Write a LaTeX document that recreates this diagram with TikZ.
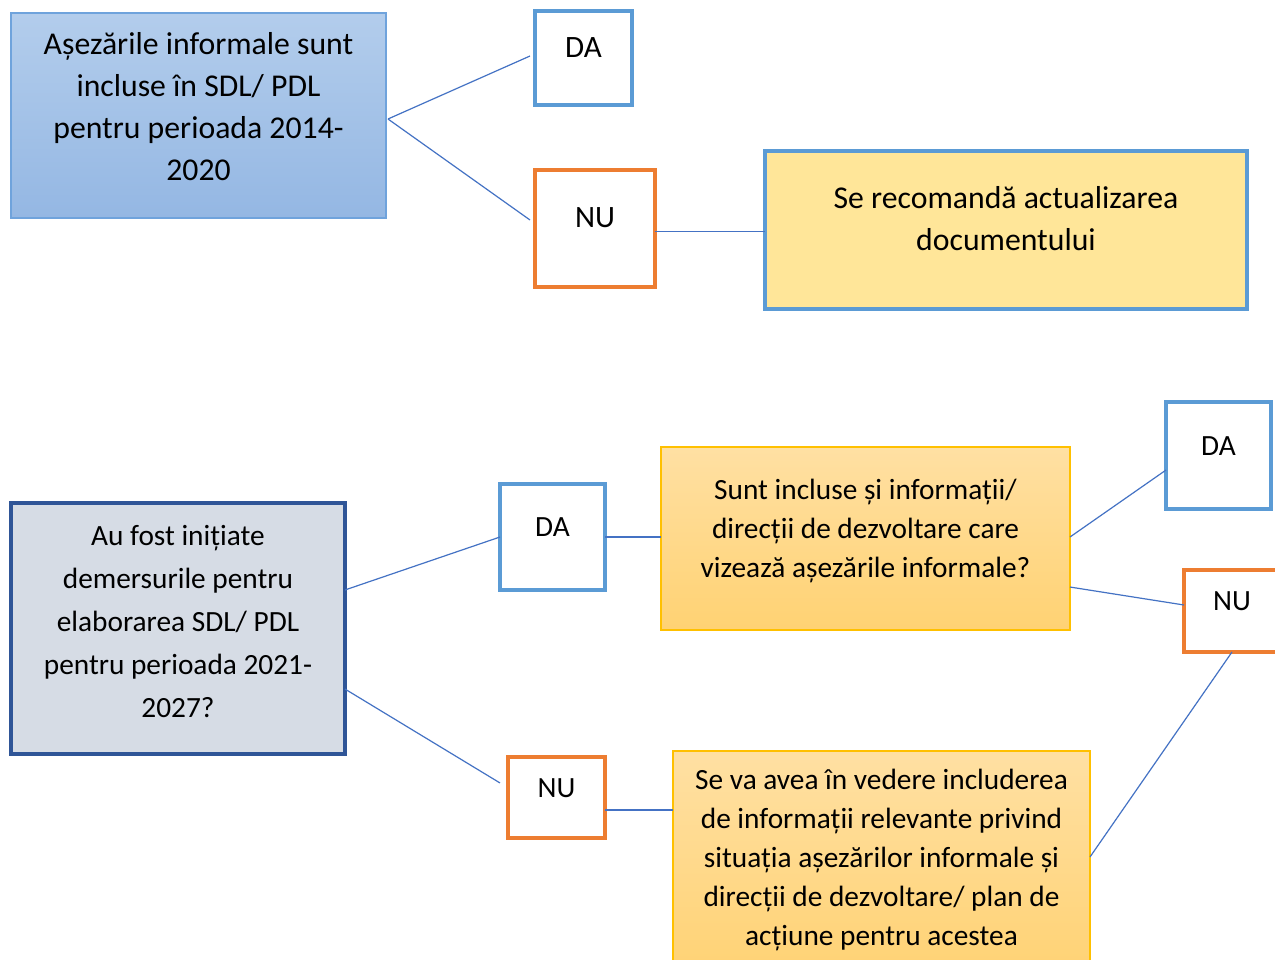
\documentclass[tikz,border=0pt]{standalone}
\usepackage{fontspec}
\setmainfont{Carlito}
\usetikzlibrary{calc}
\definecolor{tlTop}{HTML}{B3CDEC}
\definecolor{tlBot}{HTML}{94B7E3}
\definecolor{tlLine}{HTML}{6FA3DC}
\definecolor{daLine}{HTML}{5B9BD5}
\definecolor{nuLine}{HTML}{ED7D31}
\definecolor{recFill}{HTML}{FFE699}
\definecolor{blFill}{HTML}{D6DCE5}
\definecolor{blLine}{HTML}{2F5597}
\definecolor{qTop}{HTML}{FFE0A3}
\definecolor{qBot}{HTML}{FFD273}
\definecolor{qLine}{HTML}{FFC000}
\definecolor{connC}{HTML}{4472C4}
\tikzset{
  box/.style={rectangle, inner sep=0pt, outer sep=0pt},
  yesbox/.style={box, draw=daLine, fill=white, line width=2.4pt},
  nobox/.style={box, draw=nuLine, fill=white, line width=2.4pt},
  txt/.style={inner sep=0pt, outer sep=0pt, align=center, anchor=base},
  bigtxt/.style={txt, font=\fontsize{23.8}{31.5}\selectfont},
  smalltxt/.style={txt, font=\fontsize{22}{29.1}\selectfont},
  bltxt/.style={txt, font=\fontsize{22}{32.25}\selectfont},
  link/.style={draw=connC, line width=0.9pt},
}
\begin{document}
\begin{tikzpicture}[x=0.75pt,y=-0.75pt]
\useasboundingbox (0,0) rectangle (1275,960);
\clip (0,0) rectangle (1275,960);
\fill[white] (0,0) rectangle (1275,960);

% top part
\node[box, draw=tlLine, line width=1.2pt, top color=tlTop, bottom color=tlBot,
      minimum width=281.25pt, minimum height=153.75pt] (tl) at (198.5,115.5) {};
\node[bigtxt] (tlT) at (198.5,180) {Așezările informale sunt\\incluse în SDL/ PDL\\pentru perioada 2014-\\2020};

\node[yesbox, minimum width=72.75pt, minimum height=70.5pt] (daT) at (583.5,58) {};
\node[bigtxt, font=\fontsize{23.3}{28}\selectfont] (daTT) at (583.5,57) {DA};

\node[nobox, minimum width=90pt, minimum height=87.75pt] (nuT) at (595,228.5) {};
\node[bigtxt, font=\fontsize{23.3}{28}\selectfont] (nuTT) at (595,227) {NU};

\node[box, draw=daLine, line width=2.4pt, fill=recFill,
      minimum width=361.5pt, minimum height=118.5pt] (rec) at (1006,230) {};
\node[bigtxt] (recT) at (1006,250) {Se recomandă actualizarea\\documentului};

\draw[link] ($(tl.east)+(2,3.5)$) -- ($(daT.west)+(-5,-2)$);
\draw[link] ($(tl.east)+(2,3.5)$) -- ($(nuT.west)+(-5,-8.5)$);
\draw[link] ([yshift=-2.25pt]nuT.east) -- ([yshift=-2.25pt]nuT.east -| rec.west);

% bottom part
\node[box, draw=blLine, line width=2.4pt, fill=blFill,
      minimum width=250.5pt, minimum height=188.25pt] (bl) at (178,628.5) {};
\node[bltxt] (blT) at (178,717) {Au fost inițiate\\demersurile pentru\\elaborarea SDL/ PDL\\pentru perioada 2021-\\2027?};

\node[yesbox, minimum width=78.75pt, minimum height=79.5pt] (daM) at (552.5,537) {};
\node[smalltxt] (daMT) at (552.5,536) {DA};

\node[nobox, minimum width=72.75pt, minimum height=60.75pt] (nuM) at (556.5,797.5) {};
\node[smalltxt] (nuMT) at (556.5,797) {NU};

\node[box, draw=qLine, line width=1.2pt, top color=qTop, bottom color=qBot,
      minimum width=306.75pt, minimum height=137.25pt] (q) at (865.5,538.5) {};
\node[smalltxt] (qT) at (865.5,577) {Sunt incluse și informații/\\direcții de dezvoltare care\\vizează așezările informale?};

\node[yesbox, minimum width=78.75pt, minimum height=80.25pt] (daR) at (1218.5,455.5) {};
\node[smalltxt] (daRT) at (1218.5,455) {DA};

\node[nobox, minimum width=72pt, minimum height=61.5pt] (nuR) at (1232,611) {};
\node[smalltxt] (nuRT) at (1232,610) {NU};

\node[box, draw=qLine, line width=1.2pt, top color=qTop, bottom color=qBot,
      minimum width=312.75pt, minimum height=171.75pt] (bot) at (881.5,865.5) {};
\node[smalltxt] (botT) at (881.5,945) {Se va avea în vedere includerea\\de informații relevante privind\\situația așezărilor informale și\\direcții de dezvoltare/ plan de\\acțiune pentru acestea};

\draw[link] ([yshift=28.9pt]bl.east) -- (daM.west);
\draw[link] ([yshift=-45.4pt]bl.east) -- ([xshift=-6pt,yshift=10.9pt]nuM.west);
\draw[link] (daM.east) -- (daM.east -| q.west);
\draw[link] ([yshift=-9.4pt]nuM.east) -- ([yshift=-9.4pt]nuM.east -| bot.west);
\draw[link] (q.east) ++(0,-1.5) -- ([yshift=-10.9pt]daR.west);
\draw[link] ([yshift=-36.4pt]q.east) -- ([yshift=4.5pt]nuR.west);
\draw[link] (nuR.south) -- ([yshift=6.4pt]bot.east);
\end{tikzpicture}
\end{document}
